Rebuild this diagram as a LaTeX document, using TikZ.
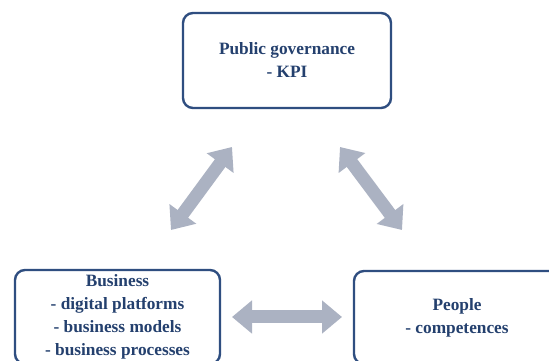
\documentclass[tikz,border=0pt]{standalone}
\usepackage{fontspec}
\setmainfont{Liberation Serif}
\usetikzlibrary{arrows.meta}
\definecolor{boxline}{HTML}{2F4E80}
\definecolor{boxtext}{HTML}{24406E}
\definecolor{arrowfill}{HTML}{ABB2C2}
\tikzset{
  topic/.style={draw=boxline, line width=2.4pt, rounded corners=10pt, fill=white,
    text=boxtext, align=center, inner sep=0pt,
    font=\fontsize{17.3}{23}\selectfont\bfseries},
  link/.style={draw=arrowfill, line width=13pt,
    {Triangle[length=20pt,width=32pt]}-{Triangle[length=20pt,width=32pt]}}
}
\begin{document}
\begin{tikzpicture}[x=1pt,y=1pt]
  \clip (0,0) rectangle (549,361);
  \useasboundingbox (0,0) rectangle (549,361);
  \fill[white] (0,0) rectangle (549,361);

  % the three topic boxes
  \node[topic, minimum width=208pt, minimum height=95pt] (gov) at (287,300.5)
    {Public governance\\- KPI};
  \node[topic, minimum width=205pt, minimum height=94pt] (bus) at (117.5,44)
    {Business\\- digital platforms\\- business models\\- business processes};
  \node[topic, minimum width=206pt, minimum height=93pt] (ppl) at (457,43.5)
    {People\\- competences};

  % free ends of the two-headed links
  \coordinate (gb1) at (232,214);
  \coordinate (gb2) at (171,131);
  \coordinate (gp1) at (340,214);
  \coordinate (gp2) at (402,131);
  \coordinate (bp1) at (232,44);
  \coordinate (bp2) at (342,44);

  \draw[link] (gb2) -- (gb1);
  \draw[link] (gp1) -- (gp2);
  \draw[link] (bp1) -- (bp2);
\end{tikzpicture}
\end{document}
